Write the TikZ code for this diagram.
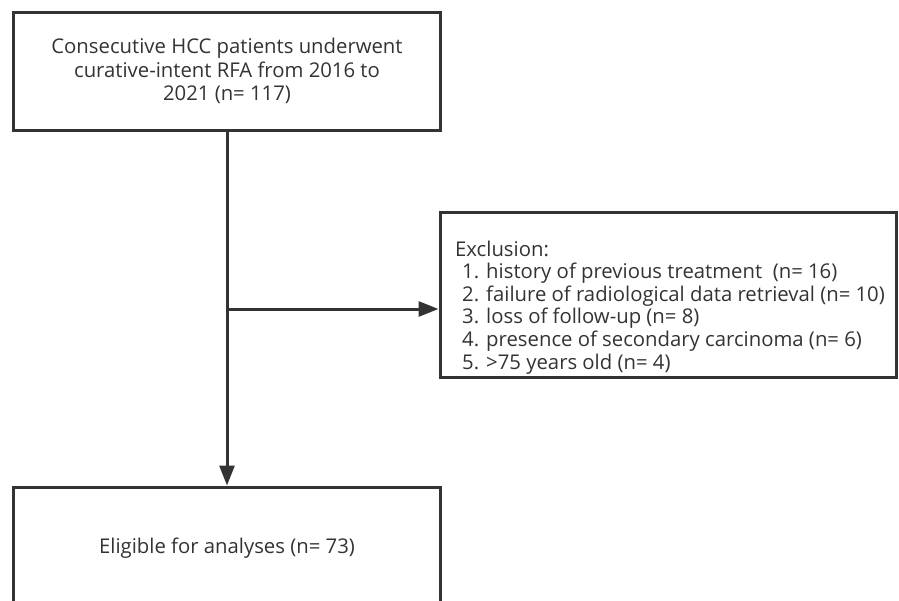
\documentclass[tikz,border=0pt]{standalone}
\usepackage{fontspec}
\setmainfont{Open Sans}
\usepackage{tikz}
\usetikzlibrary{arrows.meta, positioning}
\definecolor{LineGray}{HTML}{333333}

\begin{document}
\begin{tikzpicture}[x=1pt, y=-1pt,
    every node/.style={font=\fontsize{20.3pt}{22.6pt}\selectfont, text=LineGray},
    box/.style={draw=LineGray, line width=3pt, inner sep=0pt},
    flow/.style={draw=LineGray, line width=3pt, -{Triangle[length=20pt, width=15pt]}}]
    \useasboundingbox (0, 0) rectangle (899, 600);
    \node[box, minimum width=427pt, minimum height=118pt, align=center, font=\fontsize{20.3pt}{23.2pt}\selectfont] (top) at (227, 71) {Consecutive HCC patients underwent\\curative-intent RFA from 2016 to\\2021 (n= 117)};
    \node[box, minimum width=456pt, minimum height=165pt] (excl) at (668, 294.5) {};
    \node[anchor=north west, align=left, inner sep=0pt] (excltext) at (455, 240.5) {Exclusion:\\
      \hspace*{7pt}1. history of previous treatment \ (n= 16)\\
      \hspace*{7pt}2. failure of radiological data retrieval (n= 10)\\
      \hspace*{7pt}3. loss of follow-up (n= 8)\\
      \hspace*{7pt}4. presence of secondary carcinoma (n= 6)\\
      \hspace*{7pt}5. >75 years old (n= 4)};
    \node[box, minimum width=427pt, minimum height=123pt] (elig) at (227, 548.5) {Eligible for analyses (n= 73)};
    % connectors
    \coordinate (branch) at (227, 309);
    \draw[flow] (top) -- (elig);
    \draw[flow] (branch) -- (branch -| excl.west);
\end{tikzpicture}
\end{document}
